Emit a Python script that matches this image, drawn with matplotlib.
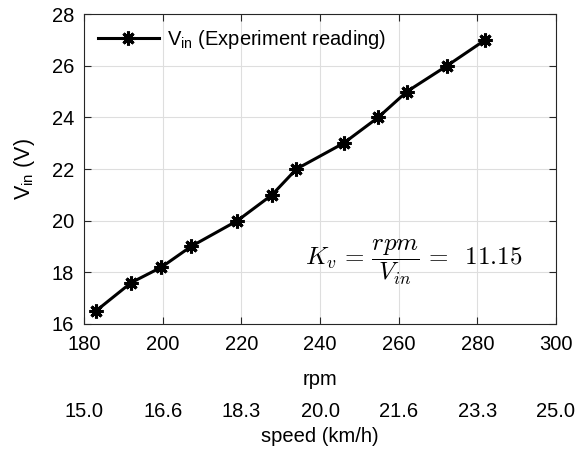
import matplotlib
matplotlib.use("Agg")
import matplotlib.pyplot as plt

rpm = [183.0, 192.0, 199.7, 207.2, 219.0, 227.8, 234.0, 246.0, 254.8, 262.1, 272.3, 282.0]
vin = [16.5, 17.6, 18.2, 19.0, 20.0, 21.0, 22.0, 23.0, 24.0, 25.0, 26.0, 27.0]
rpm_ticks = [180, 200, 220, 240, 260, 280, 300]
speed_labels = ["15.0", "16.6", "18.3", "20.0", "21.6", "23.3", "25.0"]
kv = 11.15

plt.rcParams['font.family'] = ['Liberation Sans', 'DejaVu Sans']
plt.rcParams['mathtext.fontset'] = 'custom'
plt.rcParams['mathtext.rm'] = 'Liberation Sans'
plt.rcParams['mathtext.it'] = 'Liberation Sans:italic'
plt.rcParams['font.size'] = 14.5

fig = plt.figure(figsize=(5.77, 4.55), dpi=100)
ax = fig.add_axes([0.1456, 0.288, 0.818, 0.681])

ax.plot(rpm, vin, '-', color='black', lw=2.2, marker=(8, 2, 0), ms=10, mew=2.2,
        label=r'V$_{\mathrm{in}}$ (Experiment reading)')

ax.set_xlim(180, 300)
ax.set_ylim(16, 28)
ax.set_xticks(rpm_ticks)
ax.set_yticks(range(16, 29, 2))
ax.grid(True, color='#dedede', lw=0.8)
ax.set_axisbelow(True)
ax.tick_params(direction='in', top=True, right=True, length=5, width=0.8, labelsize=14.5, colors='#262626',
               labelcolor='black')
ax.tick_params(axis='x', pad=8)
ax.tick_params(axis='y', pad=7)
for s in ax.spines.values():
    s.set_color('#262626')
    s.set_linewidth(0.8)

ax.set_xlabel('rpm', fontsize=14.5)
ax.xaxis.set_label_coords(0.5, -0.15)
ax.set_ylabel(r'V$_{\mathrm{in}}$ (V)', fontsize=15.5, va='center')
ax.yaxis.set_label_coords(-0.127, 0.5)

sec = ax.secondary_xaxis(-0.243)
sec.set_xticks(rpm_ticks)
sec.set_xticklabels(speed_labels)
sec.tick_params(length=0, labelsize=14.5, pad=2)
sec.spines['bottom'].set_visible(False)
sec.set_xlabel('speed (km/h)', fontsize=14.5)
sec.xaxis.set_label_coords(0.5, -0.333, transform=ax.transAxes)

ax.text(263.8, 18.4, r'$K_v\,=\,\dfrac{rpm}{V_{in}}\,=\;\;11.15$',
        ha='center', va='center', fontsize=18, math_fontfamily='cm')

leg = ax.legend(loc='upper left', frameon=False, fontsize=14.5, handlelength=3.0,
                borderaxespad=0.3, handletextpad=0.4)

fig.savefig('out.png', dpi=100)
